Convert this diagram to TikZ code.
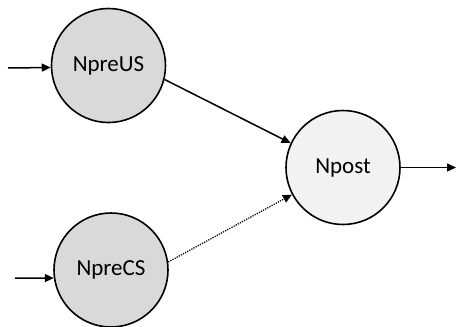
\documentclass[tikz,border=0pt]{standalone}
\usepackage{fontspec}
\setmainfont{Carlito}
\usetikzlibrary{arrows.meta}
\definecolor{preFill}{HTML}{D9D9D9}
\definecolor{postFill}{HTML}{F2F2F2}
\tikzset{
  neuron/.style={circle, draw=black, line width=1.6pt, minimum size=114pt, inner sep=0pt, font=\fontsize{23}{27}\selectfont},
  conn/.style={line width=1.5pt, -{Triangle[length=9pt,width=8pt]}},
  dotconn/.style={line width=1.3pt, dash pattern=on 1.2pt off 1.2pt, -{Triangle[length=9pt,width=8pt]}}
}
\begin{document}
\begin{tikzpicture}[x=1pt,y=1pt]
\useasboundingbox (0,0) rectangle (456,-327);
\node[neuron, fill=preFill] (us) at (108.5,-65.5) {NpreUS};
\node[neuron, fill=preFill] (cs) at (111,-270) {NpreCS};
\node[neuron, fill=postFill] (post) at (343,-167.5) {Npost};
\coordinate (in1) at (8,-68);
\coordinate (in2) at (15,-278);
\coordinate (out) at (456,-167.5);
\draw[conn] (in1) -- (us.182.5);
\draw[conn] (in2) -- (cs.188);
\draw[conn] (us.-14) -- (post.155);
\draw[dotconn] (cs.8) -- (post.208);
\draw[conn] (post.east) -- (out);
\end{tikzpicture}
\end{document}
